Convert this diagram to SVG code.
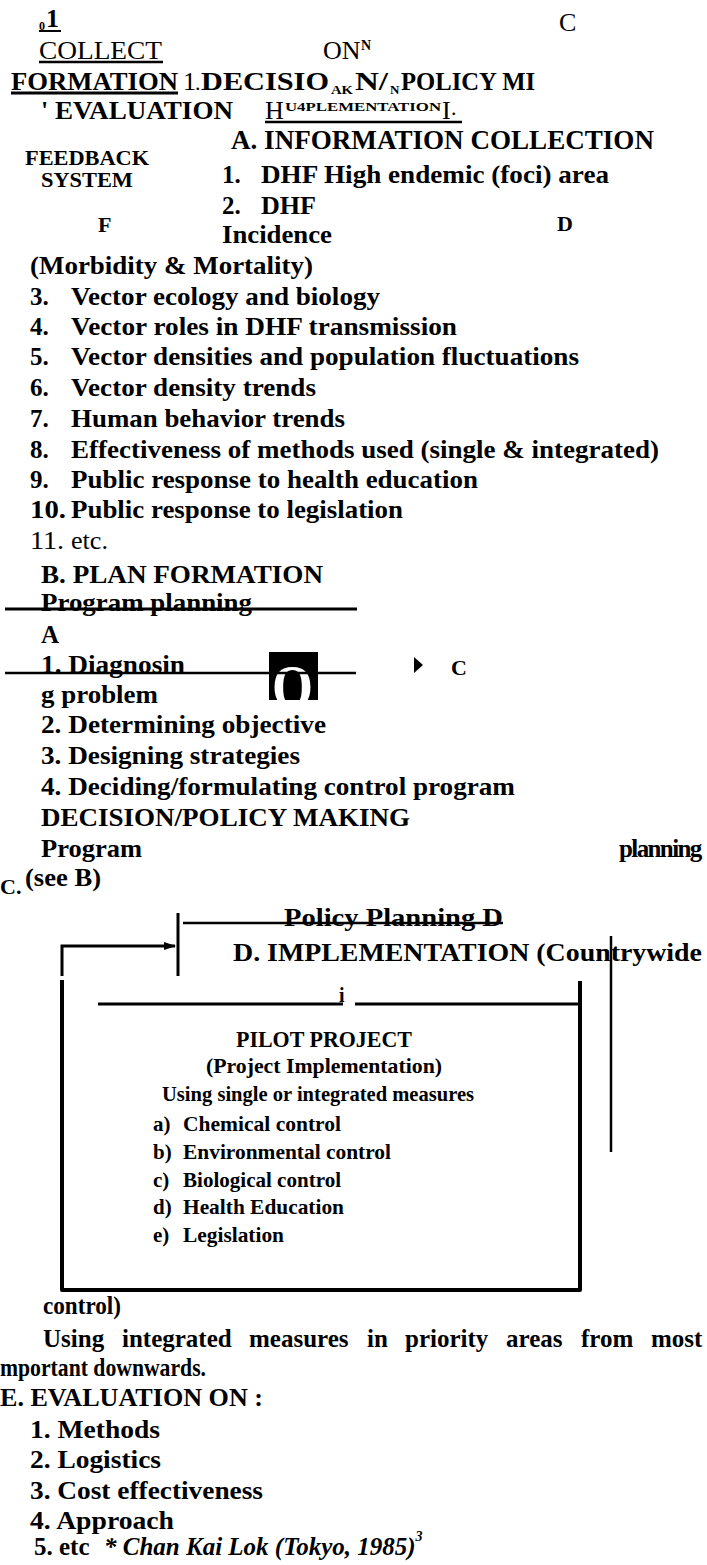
<svg xmlns="http://www.w3.org/2000/svg" width="707" height="1565" viewBox="0 0 707 1565">
<style>
text{font-family:"Liberation Serif","Times New Roman",serif;fill:#000}
.b{font-weight:bold}
.i{font-style:italic}
.t25{font-size:25px}
.t26{font-size:26px}
.t22{font-size:22px}
.t21{font-size:21px}
.sm{font-size:13px}
.ln{stroke:#000;fill:none}
</style>
<defs>
<marker id="ah" markerWidth="12" markerHeight="10" refX="11" refY="5" orient="auto" markerUnits="userSpaceOnUse">
<path d="M0,1 L12,5 L0,9 Z" fill="#000"/>
</marker>
<clipPath id="sq"><rect x="269" y="652" width="49" height="48"/></clipPath>
</defs>
<rect width="707" height="1565" fill="#fff"/>

<g id="header">
<text class="b t26" y="27"><tspan x="39" y="30" font-size="12">0</tspan><tspan x="46" y="27">1</tspan></text>
<text class="t26" x="559" y="31">C</text>
<text class="t26" x="39" y="59" textLength="123" lengthAdjust="spacingAndGlyphs">COLLECT</text>
<text class="t26" y="59"><tspan x="323">ON</tspan><tspan class="b" font-size="14" x="361" y="50">N</tspan></text>
<text class="b t26" x="11" y="90" textLength="167" lengthAdjust="spacingAndGlyphs">FORMATION</text>
<text class="t26" x="183" y="90">1</text>
<text class="t22" x="195" y="90">.</text>
<text class="b t26" x="201" y="90" textLength="128" lengthAdjust="spacingAndGlyphs">DECISIO</text>
<text class="b sm" x="331" y="94" textLength="22" lengthAdjust="spacingAndGlyphs">AK</text>
<text class="b t26" x="355" y="90" textLength="33" lengthAdjust="spacingAndGlyphs">N/</text>
<text class="b sm" x="390" y="94">N</text>
<text class="b t26" x="401" y="90" textLength="134" lengthAdjust="spacingAndGlyphs">POLICY MI</text>
<text class="b t26" x="41" y="119">'</text>
<text class="b t26" x="55" y="119" textLength="178" lengthAdjust="spacingAndGlyphs">EVALUATION</text>
<text class="t26" x="265" y="119">H</text>
<text class="b sm" x="285" y="111" textLength="156" lengthAdjust="spacingAndGlyphs">U4PLEMENTATION</text>
<text class="t26" x="442" y="119">I</text>
<text class="t22" x="451" y="115">.</text>
</g>

<g id="feedback-system">
<text class="b t22" x="25" y="165" textLength="124" lengthAdjust="spacingAndGlyphs">FEEDBACK</text>
<text class="b t22" x="41" y="187" textLength="92" lengthAdjust="spacingAndGlyphs">SYSTEM</text>
<text class="b t22" x="98" y="232">F</text>
</g>

<g id="label-d">
<text class="b t22" x="557" y="231">D</text>
</g>

<g id="info-collection">
<text class="b" font-size="27" x="231" y="149" textLength="423" lengthAdjust="spacingAndGlyphs">A. INFORMATION COLLECTION</text>
<text class="b t25" x="222" y="183">1.</text>
<text class="b t25" x="261" y="183" textLength="348" lengthAdjust="spacingAndGlyphs">DHF High endemic (foci) area</text>
<text class="b t25" x="222" y="214">2.</text>
<text class="b t25" x="261" y="214" textLength="55" lengthAdjust="spacingAndGlyphs">DHF</text>
<text class="b t25" x="222" y="243" textLength="110" lengthAdjust="spacingAndGlyphs">Incidence</text>
<text class="b t25" x="30" y="274" textLength="283" lengthAdjust="spacingAndGlyphs">(Morbidity &amp; Mortality)</text>
<text class="b t25" x="30" y="305">3.</text>
<text class="b t25" x="71" y="305" textLength="309" lengthAdjust="spacingAndGlyphs">Vector ecology and biology</text>
<text class="b t25" x="30" y="335">4.</text>
<text class="b t25" x="71" y="335" textLength="386" lengthAdjust="spacingAndGlyphs">Vector roles in DHF transmission</text>
<text class="b t25" x="30" y="365">5.</text>
<text class="b t25" x="71" y="365" textLength="508" lengthAdjust="spacingAndGlyphs">Vector densities and population fluctuations</text>
<text class="b t25" x="30" y="396">6.</text>
<text class="b t25" x="71" y="396" textLength="245" lengthAdjust="spacingAndGlyphs">Vector density trends</text>
<text class="b t25" x="30" y="427">7.</text>
<text class="b t25" x="71" y="427" textLength="274" lengthAdjust="spacingAndGlyphs">Human behavior trends</text>
<text class="b t25" x="30" y="458">8.</text>
<text class="b t25" x="71" y="458" textLength="588" lengthAdjust="spacingAndGlyphs">Effectiveness of methods used (single &amp; integrated)</text>
<text class="b t25" x="30" y="488">9.</text>
<text class="b t25" x="71" y="488" textLength="407" lengthAdjust="spacingAndGlyphs">Public response to health education</text>
<text class="b t25" x="30" y="518" textLength="36" lengthAdjust="spacingAndGlyphs">10.</text>
<text class="b t25" x="71" y="518" textLength="332" lengthAdjust="spacingAndGlyphs">Public response to legislation</text>
<text class="t25" x="30" y="549" textLength="34" lengthAdjust="spacingAndGlyphs">11.</text>
<text class="t25" x="71" y="549" textLength="37" lengthAdjust="spacingAndGlyphs">etc.</text>
</g>

<g id="plan-formation">
<text class="b t25" x="41" y="583" textLength="282" lengthAdjust="spacingAndGlyphs">B. PLAN FORMATION</text>
<text class="b t25" x="41" y="611" textLength="211" lengthAdjust="spacingAndGlyphs">Program planning</text>
<text class="b t25" x="41" y="643">A</text>
<text class="b t25" x="41" y="673" textLength="144" lengthAdjust="spacingAndGlyphs">1. Diagnosin</text>
<text class="b t25" x="41" y="703" textLength="117" lengthAdjust="spacingAndGlyphs">g problem</text>
<text class="b t25" x="41" y="733" textLength="285" lengthAdjust="spacingAndGlyphs">2. Determining objective</text>
<text class="b t25" x="41" y="764" textLength="259" lengthAdjust="spacingAndGlyphs">3. Designing strategies</text>
<text class="b t25" x="41" y="795" textLength="474" lengthAdjust="spacingAndGlyphs">4. Deciding/formulating control program</text>
</g>

<g id="o-mark">
<rect x="269" y="652" width="49" height="48" fill="#000"/>
<text class="b" font-size="62" x="272" y="707" textLength="41" lengthAdjust="spacingAndGlyphs" clip-path="url(#sq)" style="fill:#fff">O</text>
</g>

<g id="label-c">
<text class="b t22" x="451" y="675">C</text>
</g>

<g id="decision-making">
<text class="b t25" x="41" y="826" textLength="369" lengthAdjust="spacingAndGlyphs">DECISION/POLICY MAKING</text>
<text class="b t25" x="41" y="857" textLength="101" lengthAdjust="spacingAndGlyphs">Program</text>
<text class="b t25" x="619" y="857" letter-spacing="-1.6">planning</text>
<text class="b t22" x="0" y="894">C.</text>
<text class="b t25" x="25" y="886" textLength="76" lengthAdjust="spacingAndGlyphs">(see B)</text>
</g>

<g id="implementation">
<text class="b t25" x="284" y="926" textLength="219" lengthAdjust="spacingAndGlyphs">Policy Planning D</text>
<text class="b t25" x="233" y="961" textLength="469" lengthAdjust="spacingAndGlyphs">D.  IMPLEMENTATION  (Countrywide</text>
<text class="b" font-size="20" x="339" y="1002">i</text>
<text class="b t25" x="43" y="1314" textLength="78" lengthAdjust="spacingAndGlyphs">control)</text>
<text class="b t25" y="1347"><tspan x="43">Using</tspan><tspan x="122">integrated</tspan><tspan x="249">measures</tspan><tspan x="367">in</tspan><tspan x="405">priority</tspan><tspan x="506">areas</tspan><tspan x="581">from</tspan><tspan x="651">most</tspan></text>
<text class="b t25" x="0" y="1376" textLength="206" lengthAdjust="spacingAndGlyphs">mportant downwards.</text>
</g>

<g id="pilot-project">
<text class="b" font-size="23" x="236" y="1047" textLength="176" lengthAdjust="spacingAndGlyphs">PILOT PROJECT</text>
<text class="b t22" x="206" y="1073" textLength="236" lengthAdjust="spacingAndGlyphs">(Project Implementation)</text>
<text class="b t22" x="162" y="1101" textLength="312" lengthAdjust="spacingAndGlyphs">Using single or integrated measures</text>
<text class="b t21" x="153" y="1131">a)</text>
<text class="b t21" x="183" y="1131" textLength="158" lengthAdjust="spacingAndGlyphs">Chemical control</text>
<text class="b t21" x="153" y="1159">b)</text>
<text class="b t21" x="183" y="1159" textLength="208" lengthAdjust="spacingAndGlyphs">Environmental control</text>
<text class="b t21" x="153" y="1187">c)</text>
<text class="b t21" x="183" y="1187" textLength="158" lengthAdjust="spacingAndGlyphs">Biological control</text>
<text class="b t21" x="153" y="1214">d)</text>
<text class="b t21" x="183" y="1214" textLength="161" lengthAdjust="spacingAndGlyphs">Health Education</text>
<text class="b t21" x="153" y="1242">e)</text>
<text class="b t21" x="183" y="1242" textLength="101" lengthAdjust="spacingAndGlyphs">Legislation</text>
</g>

<g id="evaluation">
<text class="b t25" x="0" y="1406" textLength="263" lengthAdjust="spacingAndGlyphs">E.  EVALUATION ON :</text>
<text class="b t25" x="30" y="1438" textLength="130" lengthAdjust="spacingAndGlyphs">1. Methods</text>
<text class="b t25" x="30" y="1468" textLength="131" lengthAdjust="spacingAndGlyphs">2. Logistics</text>
<text class="b t25" x="30" y="1499" textLength="233" lengthAdjust="spacingAndGlyphs">3. Cost effectiveness</text>
<text class="b t25" x="30" y="1529" textLength="144" lengthAdjust="spacingAndGlyphs">4. Approach</text>
<text class="b t25" y="1555"><tspan x="34">5. etc</tspan><tspan class="i" x="104">* Chan Kai Lok (Tokyo, 1985)</tspan><tspan class="i" font-size="14" y="1541">3</tspan></text>
</g>

<g id="connectors">
<line class="ln" x1="39" y1="31" x2="61" y2="31" stroke-width="2"/>
<line class="ln" x1="39" y1="62" x2="163" y2="62" stroke-width="2.5"/>
<line class="ln" x1="11" y1="93" x2="178" y2="93" stroke-width="3"/>
<line class="ln" x1="265" y1="122" x2="462" y2="122" stroke-width="2.5"/>
<line class="ln" x1="5" y1="609" x2="357" y2="609" stroke-width="3"/>
<line class="ln" x1="5" y1="673" x2="356" y2="673" stroke-width="2.5"/>
<polygon points="414,657 423,665 414,673" fill="#000"/>
<line class="ln" x1="183" y1="923" x2="503" y2="923" stroke-width="2.5"/>
<line class="ln" x1="178" y1="913" x2="178" y2="976" stroke-width="3"/>
<path class="ln" d="M62,976 V946 H175" stroke-width="3" marker-end="url(#ah)"/>
<path class="ln" d="M62,980 V1290 H580 V981" stroke-width="4" stroke-linejoin="round"/>
<line class="ln" x1="98" y1="1004" x2="343" y2="1004" stroke-width="3"/>
<line class="ln" x1="355" y1="1004" x2="580" y2="1004" stroke-width="3"/>
<line class="ln" x1="611" y1="936" x2="611" y2="1152" stroke-width="2.5"/>
</g>
</svg>
